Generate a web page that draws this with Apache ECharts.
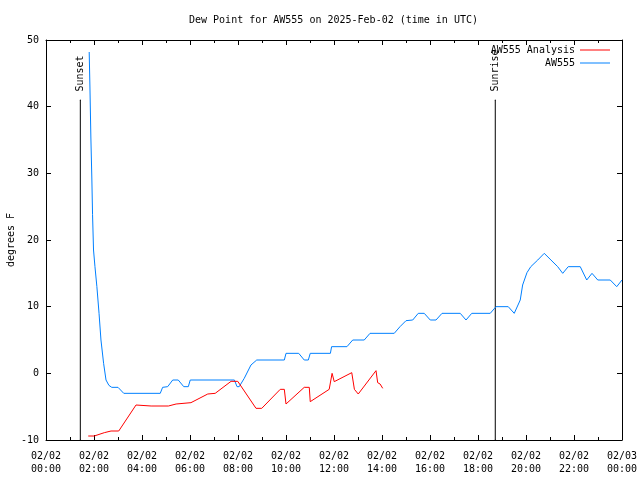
<!DOCTYPE html>
<html><head><meta charset="utf-8">
<script src="https://cdn.jsdelivr.net/npm/echarts@6/dist/echarts.min.js"></script>
<style>html,body{margin:0;padding:0;background:#fff}#c{width:640px;height:480px}</style>
</head><body><div id="c"></div>
<script>
const titleText = 'Dew Point for AW555 on 2025-Feb-02 (time in UTC)';
const xTickLabels = ['02/02\n00:00','02/02\n02:00','02/02\n04:00','02/02\n06:00','02/02\n08:00','02/02\n10:00','02/02\n12:00','02/02\n14:00','02/02\n16:00','02/02\n18:00','02/02\n20:00','02/02\n22:00','02/03\n00:00'];
const analysisName = 'AW555 Analysis';
const stationName = 'AW555';
// [hour UTC, dew point F]
const analysisData = [[1.76,-9.4],[2.01,-9.4],[2.43,-8.9],[2.71,-8.65],[3.03,-8.65],[3.75,-4.75],[4.38,-4.9],[5.1,-4.9],[5.42,-4.6],[6.04,-4.4],[6.74,-3.1],[7.05,-3],[7.71,-1.2],[7.99,-1.2],[8.75,-5.25],[8.99,-5.25],[9.76,-2.4],[9.93,-2.4],[10.0,-4.6],[10.76,-2.1],[10.97,-2.1],[11.01,-4.25],[11.8,-2.4],[11.875,-2.4],[11.92,0],[12.01,-1.25],[12.74,0.1],[12.85,-2.4],[13.01,-3.1],[13.75,0.4],[13.82,-1.4],[13.92,-1.6],[14.03,-2.25]];
const stationData = [[1.80,48.2],[1.83,43.1],[1.87,35.3],[1.91,29.3],[1.94,23.8],[1.98,18.5],[2.04,16],[2.12,13],[2.21,9],[2.29,5],[2.4,1.5],[2.5,-1],[2.62,-1.8],[2.74,-2.1],[3.0,-2.1],[3.24,-3],[4.76,-3],[4.86,-2.1],[5.07,-2],[5.28,-1],[5.51,-1],[5.74,-2],[5.93,-2],[6.01,-1],[7.85,-1],[7.96,-2],[8.05,-2],[8.26,-0.75],[8.54,1.25],[8.78,2],[9.93,2],[10.0,3],[10.53,3],[10.76,2],[10.93,2],[11.01,3],[11.85,3],[11.9,4],[12.54,4],[12.78,5],[13.26,5],[13.5,6],[14.51,6],[14.75,7],[15.0,7.9],[15.28,8],[15.51,9],[15.76,9],[16.01,8],[16.25,8],[16.5,9],[17.26,9],[17.5,8],[17.74,9],[18.51,9],[18.75,10],[19.26,10],[19.51,9],[19.76,11],[19.86,13.25],[20.04,15.1],[20.2,16],[20.49,17],[20.76,18],[21.04,17],[21.32,16],[21.53,15],[21.76,16],[22.26,16],[22.53,14],[22.75,15],[22.99,14],[23.51,14],[23.78,13],[24,14]];
const sunsetHour = 1.43;
const sunriseHour = 18.72;
const markerTop = 41;
const yMin = -10, yMax = 50;

const font = 'DejaVu Sans Mono';
const chart = echarts.init(document.getElementById('c'), null, {renderer:'canvas'});
function vline(h, name){
  return {
    type:'line', name:name, symbol:'circle', symbolSize:1, showSymbol:true, silent:true,
    lineStyle:{color:'#000', width:1}, itemStyle:{color:'#000'},
    data:[[h,yMin],{value:[h,markerTop], label:{show:true, formatter:name, rotate:90, position:'top', distance:8, align:'left', verticalAlign:'middle', fontFamily:font, fontSize:10, color:'#000'}}],
    z:1
  };
}
const axisCommon = {
  type:'value', min:0, max:24, interval:2,
  axisLine:{show:true, onZero:false, lineStyle:{color:'#000', width:1}},
  axisTick:{show:true, inside:true, length:5, lineStyle:{color:'#000'}},
  minorTick:{show:true, splitNumber:2, length:3, lineStyle:{color:'#000'}},
  splitLine:{show:false}
};
const yCommon = {
  type:'value', min:yMin, max:yMax, interval:10,
  axisLine:{show:true, onZero:false, lineStyle:{color:'#000', width:1}},
  axisTick:{show:true, inside:true, length:5, lineStyle:{color:'#000'}},
  splitLine:{show:false}
};
chart.setOption({
  animation:false,
  backgroundColor:'#fff',
  textStyle:{fontFamily:font},
  title:{text:titleText, left:184, top:10, padding:5, textStyle:{fontFamily:font, fontSize:10, fontWeight:'normal', color:'#000'}},
  legend:{
    data:[analysisName, stationName], orient:'vertical', right:30, top:45, align:'right', padding:0,
    itemWidth:30, itemHeight:10, itemGap:3, icon:'path://M0,0h30v1h-30z',
    textStyle:{fontFamily:font, fontSize:10, color:'#000'}
  },
  grid:{left:46, right:18, top:40, bottom:40, containLabel:false, outerBoundsMode:'none'},
  xAxis:[
    Object.assign({}, axisCommon, {position:'bottom',
      axisLabel:{show:true, margin:10, lineHeight:13, fontFamily:font, fontSize:10, color:'#000',
        formatter:function(v){ return xTickLabels[Math.round(v/2)]; }}}),
    Object.assign({}, axisCommon, {position:'top', axisLabel:{show:false}})
  ],
  yAxis:[
    Object.assign({}, yCommon, {position:'left', name:'degrees F', nameLocation:'middle', nameGap:30, nameRotate:90, nameMoveOverlap:false,
      nameTextStyle:{fontFamily:font, fontSize:10, color:'#000'},
      axisLabel:{show:true, margin:7, fontFamily:font, fontSize:10, color:'#000'}}),
    Object.assign({}, yCommon, {position:'right', axisLabel:{show:false}})
  ],
  series:[
    {type:'line', name:analysisName, data:analysisData, symbol:'none', color:'#ff0000', lineStyle:{width:1, color:'#ff0000'}, z:3},
    {type:'line', name:stationName, data:stationData, symbol:'none', color:'#0080ff', lineStyle:{width:1, color:'#0080ff'}, z:2},
    vline(sunsetHour, 'Sunset'),
    vline(sunriseHour, 'Sunrise')
  ]
});
</script></body></html>
